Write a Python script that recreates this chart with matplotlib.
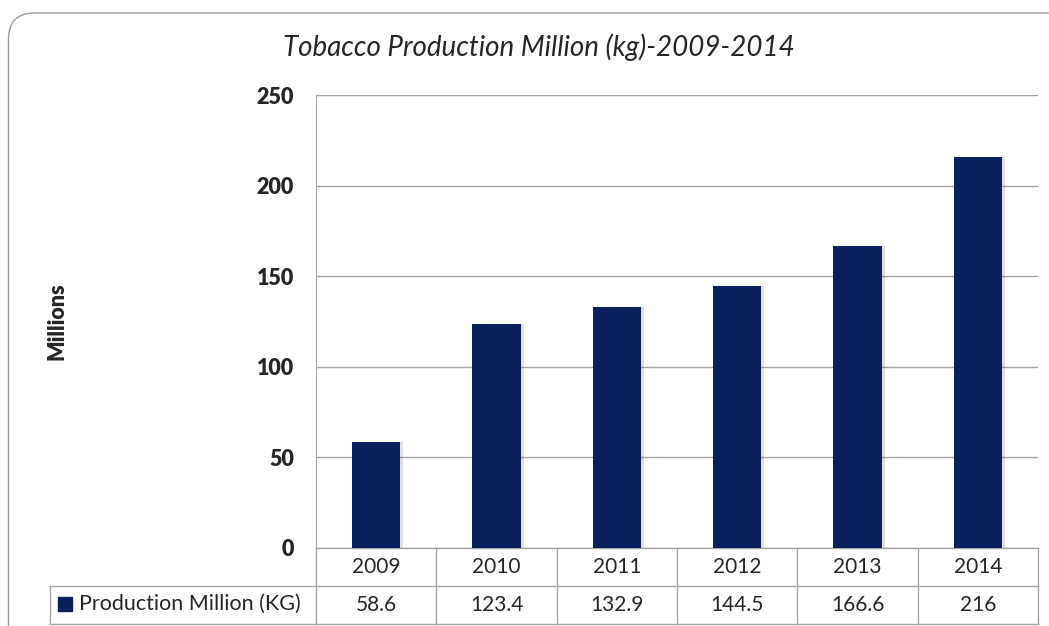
import matplotlib.pyplot as plt
from matplotlib.patches import FancyBboxPatch, Rectangle

years = ['2009', '2010', '2011', '2012', '2013', '2014']
production = [58.6, 123.4, 132.9, 144.5, 166.6, 216]
value_labels = ['58.6', '123.4', '132.9', '144.5', '166.6', '216']
series_name = 'Production Million (KG)'
title = 'Tobacco Production Million (kg)-2009-2014'

BAR = '#0b1f5c'
GRID = '#a6a6a6'
TXT = '#262626'
plt.rcParams['font.family'] = ['Lato', 'DejaVu Sans']

W, H = 1049, 626
fig = plt.figure(figsize=(W / 100, H / 100), dpi=100)

# plot area in pixels: left 316, right 1038, top 95, bottom 548
ax = fig.add_axes([316 / W, 1 - 548 / H, (1038 - 316) / W, (548 - 95) / H])

# outer rounded chart border (inches so the corners stay round)
border = FancyBboxPatch((8.5 / 100, -0.3), (W + 40) / 100, (H - 13) / 100 + 0.3,
                        boxstyle='round,pad=0,rounding_size=0.26',
                        transform=fig.dpi_scale_trans, fill=False,
                        edgecolor='#9a9a9a', linewidth=1.0, zorder=0)
fig.patches.append(border)

x = range(len(years))
# soft shadow behind bars
ax.bar([i + 0.025 for i in x], production, width=0.4, color='#000000', alpha=0.12, zorder=2)
ax.bar(x, production, width=0.4, color=BAR, zorder=3)

ax.set_xlim(-0.5, len(years) - 0.5)
ax.set_ylim(0, 250)
ax.set_yticks([0, 50, 100, 150, 200, 250])
ax.set_xticks([])
ax.yaxis.grid(True, color=GRID, linewidth=1.0, zorder=0)
ax.tick_params(axis='y', length=0, pad=16, labelsize=15.5, labelcolor=TXT)
for lab in ax.get_yticklabels():
    lab.set_fontweight('heavy')
for s in ['top', 'right', 'bottom']:
    ax.spines[s].set_visible(False)
ax.spines['left'].set_color(GRID)

fig.text(57 / W, 1 - 321 / H, 'Millions', rotation=90, fontsize=15.5, fontweight='heavy',
         color=TXT, ha='center', va='center')
fig.text(539 / W, 1 - 47 / H, title, fontsize=20, style='italic', color=TXT,
         ha='center', va='center')

# data table under the axis
tr = ax.get_xaxis_transform()
row_h = 38 / (548 - 95)
left_x = -0.5 - (316 - 50) / ((1038 - 316) / len(years))
n = len(years)
kw = dict(transform=tr, clip_on=False, color=GRID, linewidth=1.0)
ax.plot([-0.5, n - 0.5], [0, 0], **kw)
ax.plot([left_x, n - 0.5], [-row_h, -row_h], **kw)
ax.plot([left_x, n - 0.5], [-2 * row_h, -2 * row_h], **kw)
ax.plot([left_x, left_x], [-row_h, -2 * row_h], **kw)
for i in range(n + 1):
    ax.plot([i - 0.5, i - 0.5], [0, -2 * row_h], **kw)

for i in range(n):
    ax.text(i, -row_h / 2, years[i], transform=tr, ha='center', va='center',
            fontsize=15, color=TXT, clip_on=False)
    ax.text(i, -1.5 * row_h, value_labels[i], transform=tr, ha='center', va='center',
            fontsize=15, color=TXT, clip_on=False)

fig.patches.append(Rectangle((58 / W, 1 - 611 / H), 14 / W, 14 / H,
                             transform=fig.transFigure, color=BAR))
fig.text(79 / W, 1 - 604 / H, series_name, fontsize=15.5, color=TXT, ha='left', va='center')

fig.savefig('out.png', dpi=100)
